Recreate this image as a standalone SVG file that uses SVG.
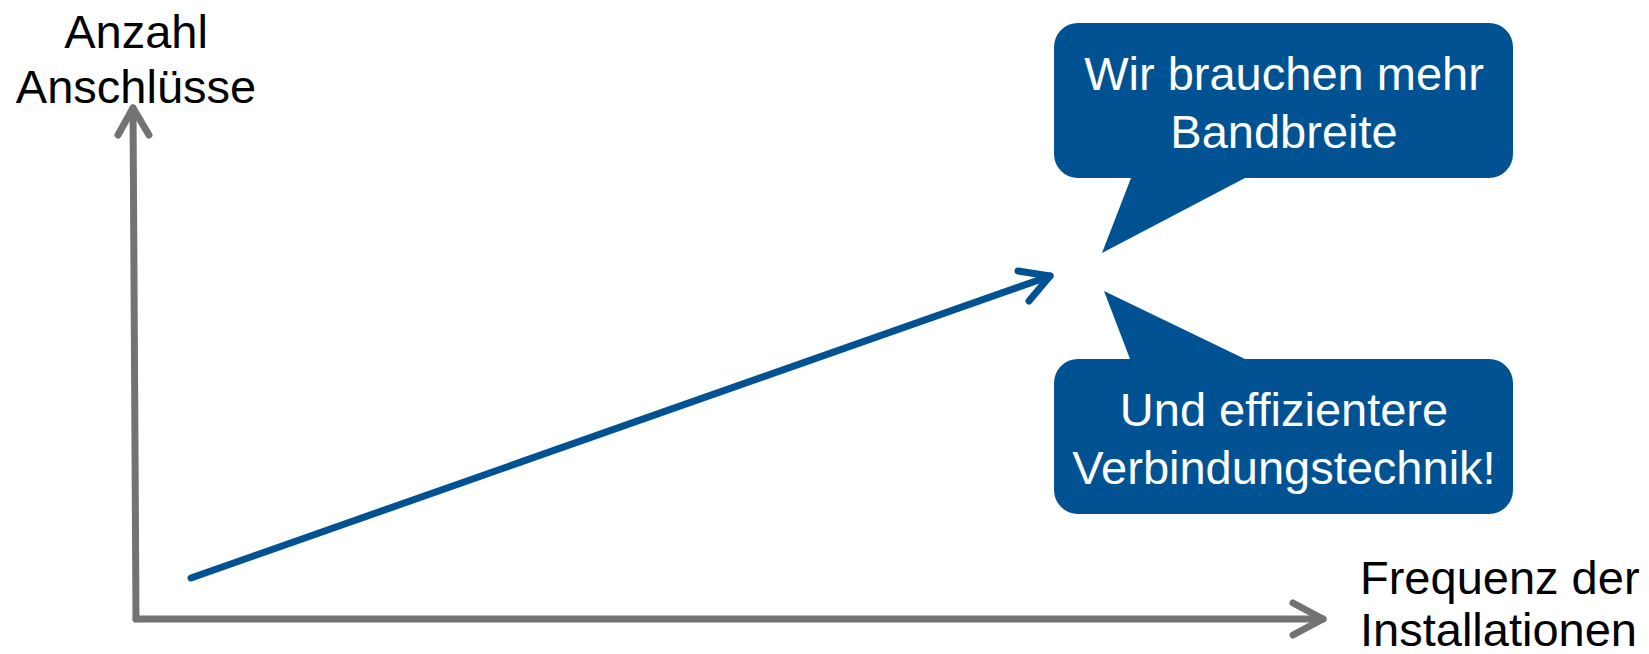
<svg xmlns="http://www.w3.org/2000/svg" width="1649" height="654" viewBox="0 0 1649 654">
<style>
.axis{fill:none;stroke:#737373;stroke-width:7;stroke-linecap:round;stroke-linejoin:round}
.trend{fill:none;stroke:#005293;stroke-width:7;stroke-linecap:round;stroke-linejoin:round}
.lbl{font-family:"Liberation Sans",Arial,sans-serif;font-size:47px;fill:#000}
.bub{fill:#005293}
.btxt{font-family:"Liberation Sans",Arial,sans-serif;font-size:47px;fill:#fff;text-anchor:middle}
</style>
<rect width="1649" height="654" fill="#fff"/>
<g id="connectors">
<path class="axis" d="M136,619 L133,108"/>
<path class="axis" d="M118,135 L133,108 L149,135"/>
<path class="axis" d="M136,619 L1323,619"/>
<path class="axis" d="M1293,603 L1323,619 L1293,635"/>
<path class="trend" d="M191,578 L1050,276"/>
<path class="trend" d="M1018,271 L1050,276 L1029,301"/>
</g>
<g id="y-label">
<text class="lbl" x="136" y="48" text-anchor="middle">Anzahl</text>
<text class="lbl" x="136" y="103" text-anchor="middle">Anschlüsse</text>
</g>
<g id="x-label">
<text class="lbl" x="1360" y="594">Frequenz der</text>
<text class="lbl" x="1360" y="646">Installationen</text>
</g>
<g id="bubble-top">
<path class="bub" d="M1078,23 H1489 A24,24 0 0 1 1513,47 V154 A24,24 0 0 1 1489,178 H1245 L1102,253 L1131,178 H1078 A24,24 0 0 1 1054,154 V47 A24,24 0 0 1 1078,23 Z"/>
<text class="btxt" x="1284" y="90">Wir brauchen mehr</text>
<text class="btxt" x="1284" y="148">Bandbreite</text>
</g>
<g id="bubble-bottom">
<path class="bub" d="M1078,359 H1130 L1104,291 L1245,359 H1489 A24,24 0 0 1 1513,383 V490 A24,24 0 0 1 1489,514 H1078 A24,24 0 0 1 1054,490 V383 A24,24 0 0 1 1078,359 Z"/>
<text class="btxt" x="1284" y="426">Und effizientere</text>
<text class="btxt" x="1284" y="484">Verbindungstechnik!</text>
</g>
</svg>
